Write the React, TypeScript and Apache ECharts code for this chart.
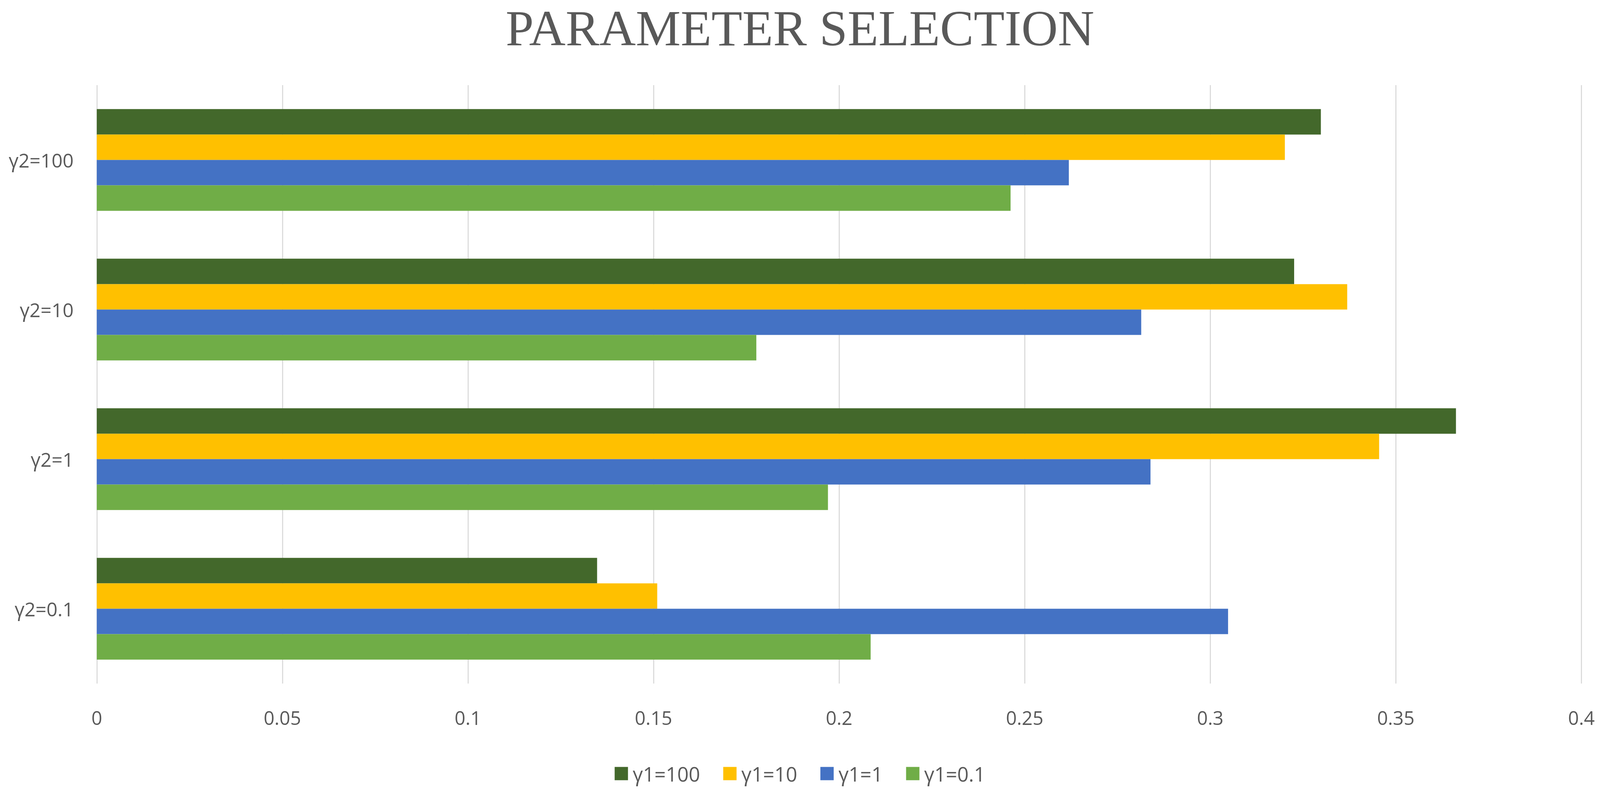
import React, { useEffect, useRef } from "react";
import * as echarts from "echarts";

const categories = ["γ2=0.1", "γ2=1", "γ2=10", "γ2=100"];
const seriesNames = ["γ1=100", "γ1=10", "γ1=1", "γ1=0.1"];
const g100 = [0.1348, 0.3662, 0.3226, 0.3298];
const g10 = [0.151, 0.3455, 0.3369, 0.3201];
const g1 = [0.3048, 0.2839, 0.2814, 0.2619];
const g01 = [0.2085, 0.197, 0.1777, 0.2462];
const colors = ["#43682B", "#FFC000", "#4472C4", "#70AD47"];
const xTicks = [0, 0.05, 0.1, 0.15, 0.2, 0.25, 0.3, 0.35, 0.4];

const REF_W = 4563;
const REF_H = 2020;

export default function App() {
  const ref = useRef<HTMLDivElement>(null);
  useEffect(() => {
    if (!ref.current) return;
    document.body.style.margin = "0";
    document.body.style.overflow = "hidden";
    const el = ref.current;
    const W = el.clientWidth || REF_W;
    const H = el.clientHeight || REF_H;
    const sx = W / REF_W;
    const sy = H / REF_H;
    const f = Math.min(sx, sy);
    const chart = echarts.init(el, undefined, { renderer: "svg", width: W, height: H });
    const values = [g100, g10, g1, g01];
    const font = "'Open Sans', sans-serif";
    chart.setOption({
      animation: false,
      backgroundColor: "#ffffff",
      title: {
        text: "PARAMETER SELECTION",
        left: "center",
        top: 8 * sy,
        padding: 0,
        textStyle: {
          fontFamily: "'Liberation Serif', serif",
          fontWeight: "normal",
          fontSize: 144 * f,
          lineHeight: 144 * f,
          color: "#595959",
        },
      },
      legend: {
        data: seriesNames,
        left: "center",
        top: 1955 * sy,
        padding: 0,
        itemWidth: 38 * f,
        itemHeight: 38 * f,
        itemGap: 66 * f,
        icon: "rect",
        textStyle: {
          fontFamily: font,
          fontSize: 57 * f,
          color: "#595959",
          padding: [0, 0, 0, 8 * f],
        },
      },
      grid: {
        left: 276 * sx,
        right: 53 * sx,
        top: 218 * sy,
        bottom: 270 * sy,
        containLabel: false,
      },
      xAxis: {
        type: "value",
        min: 0,
        max: 0.4,
        interval: 0.05,
        axisLine: { show: false },
        axisTick: { show: false },
        splitLine: { show: true, lineStyle: { color: "#d9d9d9", width: 3 * f } },
        axisLabel: {
          margin: 63 * sy,
          fontFamily: font,
          fontSize: 54 * f,
          color: "#595959",
          formatter: (v: number) => {
            const t = xTicks.find((x) => Math.abs(x - v) < 1e-9);
            return String(t !== undefined ? t : v);
          },
        },
      },
      yAxis: {
        type: "category",
        data: categories,
        axisLine: { show: false },
        axisTick: { show: false },
        splitLine: { show: false },
        axisLabel: { margin: 66 * sx, fontFamily: font, fontSize: 55 * f, color: "#595959" },
      },
      series: seriesNames.map((name, i) => ({
        name,
        type: "bar",
        data: values[i],
        barGap: "0%",
        barCategoryGap: "32%",
        itemStyle: { color: colors[i] },
      })),
    });
    return () => chart.dispose();
  }, []);
  return (
    <div
      ref={ref}
      style={{ position: "fixed", left: 0, top: 0, width: "100vw", height: "100vh" }}
    />
  );
}
